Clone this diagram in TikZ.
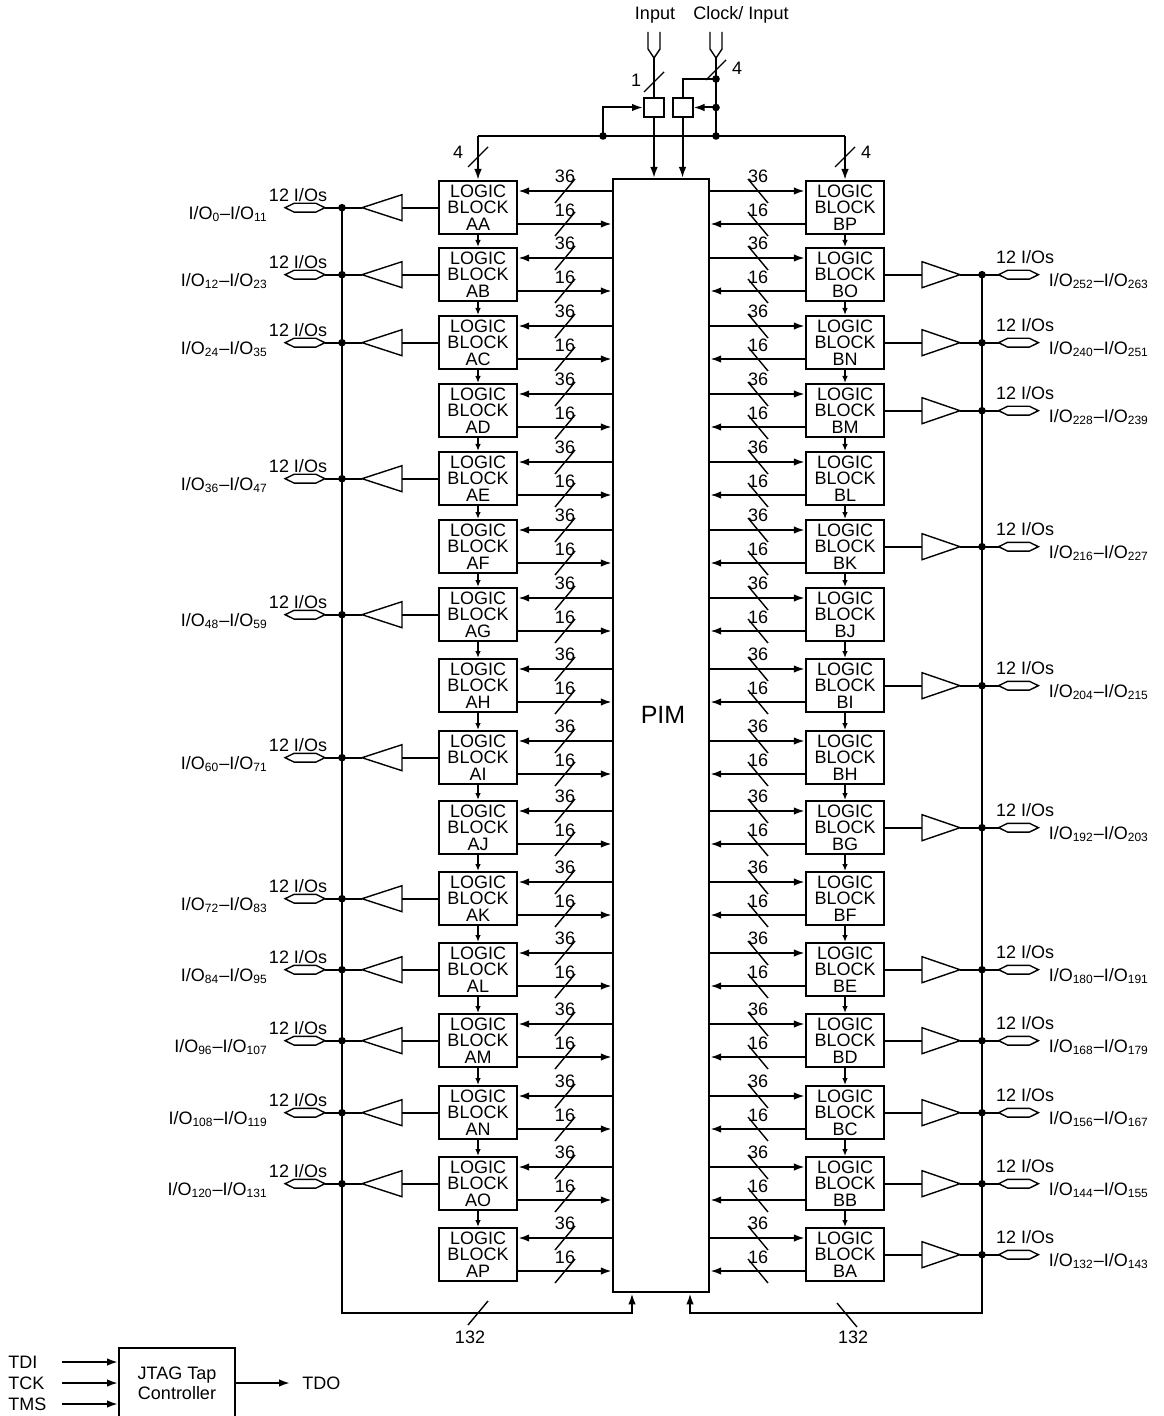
\documentclass[tikz,border=0pt]{standalone}
\usepackage{fontspec}
\setmainfont{Liberation Sans}
\usetikzlibrary{arrows.meta, calc}

\begin{document}
\begin{tikzpicture}[x=0.5pt, y=-0.5pt,
        every node/.style={inner sep=0pt, font=\fontsize{9}{8.4}\selectfont},
        lb/.style={draw, line width=1.2pt, minimum width=39pt, minimum height=26.5pt, align=center, anchor=north},
        wire/.style={line width=1pt},
        bus/.style={wire, -{Latex[length=5.5pt, width=3.8pt]}},
        flow/.style={line width=0.7pt, -{Latex[length=3.5pt, width=2.8pt]}},
        slash/.style={line width=0.7pt},
        buf/.style={line width=0.7pt},
        dot/.style={circle, fill, minimum size=3.8pt},
        iopin/.style={minimum width=19.5pt, minimum height=4pt}]
    \useasboundingbox (0,0) rectangle (1163,1416);

    % PIM
    \node[draw, line width=1.2pt, minimum width=48pt, minimum height=556.5pt, anchor=north] (PIM) at (661,178) {};
    \node[font=\fontsize{12.5}{14}\selectfont] (pimtxt) at (663,715) {PIM};

    % logic blocks and their buses to the PIM
    \foreach \p/\q/\ty in {A/P/180, B/O/247, C/N/315, D/M/383, E/L/451, F/K/519, G/J/587, H/I/658, I/H/730, J/G/800, K/F/871, L/E/942, M/D/1013, N/C/1085, O/B/1156, P/A/1227}{
        \node[lb] (A\p) at (478,\ty) {LOGIC\\BLOCK\\A\p};
        \node[lb] (B\q) at (845,\ty) {LOGIC\\BLOCK\\B\q};
        \draw[bus] (PIM.west |- 0,\ty+11) -- (A\p.east |- 0,\ty+11);
        \draw[bus] (A\p.east |- 0,\ty+44) -- (PIM.west |- 0,\ty+44);
        \draw[bus] (PIM.east |- 0,\ty+11) -- (B\q.west |- 0,\ty+11);
        \draw[bus] (B\q.west |- 0,\ty+44) -- (PIM.east |- 0,\ty+44);
        \draw[slash] (555,\ty+23) -- (575,\ty-1) (555,\ty+56) -- (575,\ty+32);
        \draw[slash] (748,\ty-1) -- (768,\ty+23) (748,\ty+32) -- (768,\ty+56);
        \node (wa\p) at (565,\ty-4) {36};
        \node (wb\p) at (565,\ty+30) {16};
        \node (ea\q) at (758,\ty-4) {36};
        \node (eb\q) at (758,\ty+30) {16};
    }
    \foreach \a/\b/\c/\d in {A/B/P/O, B/C/O/N, C/D/N/M, D/E/M/L, E/F/L/K, F/G/K/J, G/H/J/I, H/I/I/H, I/J/H/G, J/K/G/F, K/L/F/E, L/M/E/D, M/N/D/C, N/O/C/B, O/P/B/A}{
        \draw[flow] (A\a.south) -- (A\b.north);
        \draw[flow] (B\c.south) -- (B\d.north);
    }

    % left I/O cells
    \foreach \p/\ioa/\iob in {A/0/11, B/12/23, C/24/35, E/36/47, G/48/59, I/60/71, K/72/83, L/84/95, M/96/107, N/108/119, O/120/131}{
        \coordinate (gl\p) at (A\p.west -| 402,0);
        \draw[wire] (A\p.west) -- (gl\p);
        \draw[buf] (gl\p) ++(0,-13) -- ++(0,26) -- ++(-40,-13) -- cycle;
        \node[dot] (dA\p) at (A\p.west -| 342,0) {};
        \node[iopin] (pA\p) at (A\p.west -| 305,0) {};
        \draw[buf] (pA\p.west) -- ([xshift=4.5pt]pA\p.north west) -- ([xshift=-4.5pt]pA\p.north east) -- (pA\p.east)
            -- ([xshift=-4.5pt]pA\p.south east) -- ([xshift=4.5pt]pA\p.south west) -- cycle;
        \draw[wire] (A\p.west -| 362,0) -- (pA\p.east);
        \node (nA\p) at ($(pA\p)+(-7,-13)$) {12 I/Os};
        \node[anchor=east] (lA\p) at ($(pA\p.west)+(-17,6)$) {I/O\textsubscript{\ioa}--I/O\textsubscript{\iob}};
    }
    % right I/O cells
    \foreach \q/\ioa/\iob in {O/252/263, N/240/251, M/228/239, K/216/227, I/204/215, G/192/203, E/180/191, D/168/179, C/156/167, B/144/155, A/132/143}{
        \coordinate (gr\q) at (B\q.east -| 922,0);
        \draw[wire] (B\q.east) -- (gr\q);
        \draw[buf] (gr\q) ++(0,-13) -- ++(0,26) -- ++(38,-13) -- cycle;
        \node[dot] (dB\q) at (B\q.east -| 982,0) {};
        \node[iopin] (pB\q) at (B\q.east -| 1018.5,0) {};
        \draw[buf] (pB\q.west) -- ([xshift=4.5pt]pB\q.north west) -- ([xshift=-4.5pt]pB\q.north east) -- (pB\q.east)
            -- ([xshift=-4.5pt]pB\q.south east) -- ([xshift=4.5pt]pB\q.south west) -- cycle;
        \draw[wire] (B\q.east -| 960,0) -- (pB\q.west);
        \node (nB\q) at ($(pB\q)+(6.5,-18)$) {12 I/Os};
        \node[anchor=west] (lB\q) at ($(pB\q.east)+(10,6)$) {I/O\textsubscript{\ioa}--I/O\textsubscript{\iob}};
    }

    % I/O buses back into the PIM
    \draw[bus] (dAA.center) -- (342,1313) -| (PIM.south -| 632,0);
    \draw[bus] (dBO.center) -- (982,1313) -| (PIM.south -| 690,0);
    \draw[slash] (468,1325) -- (488,1301);
    \draw[slash] (837,1303) -- (857,1327);
    \node (nl) at (470,1337) {132};
    \node (nr) at (853,1337) {132};

    % dedicated inputs and clocks
    \node (tin) at (655,15) {Input};
    \node (tclk) at (741,15) {Clock/ Input};
    \draw[buf] (648,32) -- (648,49) -- (654,58) -- (660,49) -- (660,32);
    \draw[buf] (710,32) -- (710,49) -- (716,58) -- (722,49) -- (722,32);
    \coordinate (pin1) at (654,58);
    \coordinate (pin2) at (716,58);
    \node[draw, line width=1pt, minimum width=10pt, minimum height=9.5pt] (rA) at (654,107.5) {};
    \node[draw, line width=1pt, minimum width=10pt, minimum height=9.5pt] (rB) at (682.5,107.5) {};
    \node[dot] (kA) at (716,79) {};
    \node[dot] (kB) at (716,107.5) {};
    \node[dot] (kC) at (716,136) {};
    \node[dot] (kD) at (603,136) {};
    \draw[wire] (pin1) -- (rA.north);
    \draw[wire] (pin2) -- (kC.center);
    \draw[wire] (kA.center) -| (rB.north);
    \draw[bus] (kB.center) -- (rB.east);
    \draw[bus] (kD.center) |- (rA.west);
    \draw[bus] (rA.south) -- (rA.south |- PIM.north);
    \draw[bus] (rB.south) -- (rB.south |- PIM.north);
    \draw[wire] (AA.north |- kC) -- (BP.north |- kC);
    \draw[bus] (AA.north |- kC) -- (AA.north);
    \draw[bus] (BP.north |- kC) -- (BP.north);
    \draw[slash] (644,92) -- (664,72);
    \draw[slash] (706,80) -- (726,60);
    \draw[slash] (468,167) -- (488,147);
    \draw[slash] (835,167) -- (855,147);
    \node (n1) at (636,80) {1};
    \node (n4c) at (737,68) {4};
    \node (n4l) at (458,152) {4};
    \node (n4r) at (866,152) {4};

    % JTAG
    \node[draw, wire, minimum width=58pt, minimum height=42pt] (jtag) at (177,1390) {};
    \node[align=center, font=\fontsize{9}{10}\selectfont] (jtagtxt) at (177,1383) {JTAG Tap\\Controller};
    \node[anchor=west] (tdi) at (8,1362) {TDI};
    \node[anchor=west] (tck) at (8,1383) {TCK};
    \node[anchor=west] (tms) at (8,1404) {TMS};
    \node[anchor=west] (tdo) at (302,1383) {TDO};
    \foreach \s in {tdi,tck,tms}
        \draw[bus] (\s.east -| 62,0) -- (jtag.west |- \s.east);
    \draw[bus] (jtag.east |- tdo.west) -- (tdo.west -| 290,0);
\end{tikzpicture}
\end{document}
